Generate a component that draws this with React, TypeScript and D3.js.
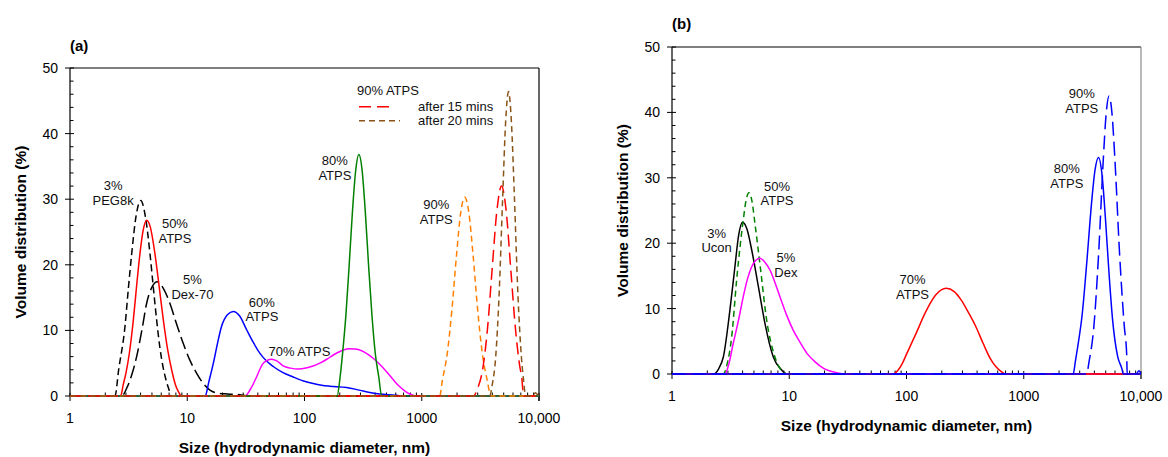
import React from 'react';
import * as d3 from 'd3';

type P = [number, number];

// ---------- axis ticks ----------
const X_TICKS = [1, 10, 100, 1000, 10000];
const X_TICK_LABELS = ['1', '10', '100', '1000', '10,000'];
const Y_TICKS = [0, 10, 20, 30, 40, 50];

// ---------- panel (a) data: [size nm, volume %] ----------
const A_PEG8K: P[] = [[1, 0], [2.42, 0], [2.6, 4], [2.94, 10.5], [3.15, 16.5], [3.36, 21.7], [3.65, 27.3], [4.01, 29.8], [4.4, 27.3], [4.81, 21.7], [5.12, 16.8], [5.48, 11.6], [5.85, 7.3], [6.25, 4.2], [6.6, 2.4], [7.03, 0.8], [7.25, 0], [10000, 0]];
const A_DEX70: P[] = [[1, 0], [2.75, 0], [3.1, 1.5], [3.4, 3.5], [3.7, 6.0], [4.1, 10], [4.5, 14.1], [5.0, 16.6], [5.55, 17.4], [6.3, 16.3], [7.12, 14.1], [8.1, 11], [9.25, 8.0], [10.5, 5.5], [12.0, 3.5], [13.7, 1.9], [15.6, 0.9], [18, 0.45], [22, 0.3], [28, 0.2], [33, 0], [10000, 0]];
const A_ATPS50: P[] = [[1, 0], [2.7, 0], [2.85, 1.8], [3.0, 3.5], [3.2, 6.4], [3.47, 11.6], [3.7, 16.8], [3.95, 21.7], [4.2, 25.2], [4.51, 26.8], [4.85, 25.7], [5.3, 21.7], [5.75, 16.8], [6.25, 11.6], [6.8, 7.1], [7.36, 4.0], [7.9, 1.8], [8.38, 0.7], [8.95, 0], [10000, 0]];
const A_ATPS60: P[] = [[1, 0], [14.2, 0], [15.3, 2.2], [16.7, 5.0], [18.0, 7.8], [19.6, 10.6], [22, 12.4], [24.7, 12.9], [28, 12.2], [32.1, 10.1], [36.5, 8.2], [41.7, 6.5], [47, 5.4], [54.1, 4.5], [65, 3.6], [80.1, 2.9], [98, 2.3], [118.6, 1.9], [140, 1.65], [164.7, 1.5], [228.5, 1.3], [270, 1.05], [316, 0.75], [370, 0.5], [439, 0.3], [520, 0.18], [610, 0.1], [700, 0], [10000, 0]];
const A_ATPS70: P[] = [[1, 0], [31, 0], [35, 1.2], [39, 2.9], [44.5, 5.0], [52.5, 5.6], [58, 5.35], [65.8, 4.6], [76, 4.25], [88.3, 4.1], [105, 4.3], [120, 4.6], [135, 5.0], [155, 5.6], [176, 6.25], [205, 6.85], [236, 7.2], [270, 7.15], [307, 6.9], [345, 6.4], [385, 5.75], [440, 4.8], [501, 3.7], [570, 2.5], [650, 1.4], [720, 0.75], [792, 0.3], [903, 0], [10000, 0]];
const A_ATPS80: P[] = [[1, 0], [190, 0], [200, 2.5], [212, 6.8], [225, 12.1], [240, 19.7], [256, 27.9], [273, 34.3], [291, 36.8], [310, 34.4], [330, 28.1], [352, 19.9], [376, 12.3], [402, 6.4], [430, 2.9], [455, 0], [10000, 0]];
const A_ATPS90: P[] = [[1, 0], [1420, 0], [1503, 2.5], [1648, 6.4], [1807, 13.1], [1982, 21.6], [2148, 27.9], [2330, 30.3], [2524, 27.9], [2737, 21.6], [3000, 13.1], [3290, 6.4], [3606, 2.5], [3900, 0], [10000, 0]];
const A_ATPS90_15MIN: P[] = [[1, 0], [2750, 0], [3020, 1.3], [3310, 4.1], [3630, 10.1], [3980, 19.2], [4370, 28.2], [4790, 32], [5250, 28.2], [5750, 19.2], [6310, 10.1], [6920, 4.1], [7100, 3.1], [7400, 0], [10000, 0]];
const A_ATPS90_20MIN: P[] = [[1, 0], [3800, 0], [3980, 1.6], [4270, 5.9], [4570, 15.5], [4900, 30.3], [5190, 41.7], [5495, 46.4], [5820, 41.7], [6170, 30.3], [6610, 15.5], [7080, 5.9], [7450, 1.8], [7650, 0], [8900, 0], [9300, 0.5], [9800, 0.15], [10000, 0]];

// ---------- panel (b) data ----------
const B_UCON3: P[] = [[1, 0], [2.25, 0], [2.5, 0.8], [2.74, 2.6], [3.12, 9.8], [3.44, 16.4], [3.7, 21.2], [4.0, 23.2], [4.35, 22.2], [4.78, 19.0], [5.45, 13.4], [6.21, 7.7], [7.31, 2.6], [8.61, 0.6], [9.5, 0], [10000, 0]];
const B_ATPS50: P[] = [[1, 0], [2.74, 0], [2.95, 1.5], [3.23, 5.7], [3.56, 14.4], [4.05, 23.5], [4.3, 26.7], [4.53, 27.7], [4.8, 26.5], [5.1, 23.0], [5.7, 15.9], [6.41, 8.3], [7.55, 2.6], [8.6, 0.5], [9.6, 0], [10000, 0]];
const B_DEX5: P[] = [[1, 0], [2.83, 0], [3.05, 1.5], [3.33, 4.7], [3.7, 8.3], [4.05, 11.8], [4.4, 14.5], [4.78, 16.4], [5.2, 17.4], [5.63, 17.7], [6.2, 17.1], [6.85, 15.9], [7.55, 14.0], [8.33, 11.8], [9.5, 9.0], [10.8, 6.7], [12.4, 4.8], [14.1, 3.2], [16.5, 1.9], [19.5, 0.9], [25.3, 0.2], [30, 0], [10000, 0]];
const B_ATPS70: P[] = [[1, 0], [76, 0], [84, 0.5], [92, 1.6], [101, 3.2], [120, 6.1], [144, 9.3], [178, 12.1], [218, 13.1], [255, 12.6], [293, 11.3], [340, 9.3], [389, 7.3], [450, 4.7], [517, 2.4], [580, 1.1], [640, 0.4], [700, 0], [10000, 0]];
const B_ATPS80: P[] = [[1, 0], [2640, 0], [2750, 1.8], [2870, 3.9], [3150, 9.1], [3450, 17.1], [3785, 26.1], [4055, 31.2], [4345, 33.1], [4655, 30.4], [4990, 23.4], [5350, 15.1], [5730, 8.2], [6300, 2.8], [6900, 0.7], [7050, 0], [9100, 0], [9600, 0.5], [10000, 0]];
const B_ATPS90: P[] = [[1, 0], [3430, 0], [3615, 2.0], [3960, 7.2], [4345, 18.2], [4765, 32.7], [5045, 39.8], [5345, 42.5], [5660, 39.8], [5995, 32.7], [6575, 18.2], [7210, 7.2], [7550, 3.0], [7620, 0], [10000, 0]];

// ---------- annotations: [size, value at first baseline, lines] ----------
type Ann = { x: number; y: number; lines: string[] };
const A_NOTES: Ann[] = [
  { x: 2.33, y: 31.4, lines: ['3%', 'PEG8k'] },
  { x: 7.85, y: 25.6, lines: ['50%', 'ATPS'] },
  { x: 11.07, y: 17.07, lines: ['5%', 'Dex-70'] },
  { x: 43.3, y: 13.64, lines: ['60%', 'ATPS'] },
  { x: 90.5, y: 6.17, lines: ['70% ATPS'] },
  { x: 181.6, y: 35.2, lines: ['80%', 'ATPS'] },
  { x: 1330, y: 28.5, lines: ['90%', 'ATPS'] },
];
const B_NOTES: Ann[] = [
  { x: 2.4, y: 20.8, lines: ['3%', 'Ucon'] },
  { x: 7.86, y: 28.0, lines: ['50%', 'ATPS'] },
  { x: 9.37, y: 17.1, lines: ['5%', 'Dex'] },
  { x: 112.5, y: 13.76, lines: ['70%', 'ATPS'] },
  { x: 2330, y: 30.7, lines: ['80%', 'ATPS'] },
  { x: 3126, y: 42.2, lines: ['90%', 'ATPS'] },
];

const LEGEND_TITLE = '90% ATPS';
const LEGEND_ITEMS = ['after 15 mins', 'after 20 mins'];

const FONT = '"Liberation Sans", Arial, Helvetica, sans-serif';
const BROWN = '#8a5418';

type Series = { data: P[]; color: string; dash?: string };

const A_SERIES: Series[] = [
  { data: A_PEG8K, color: '#000000', dash: '7,4' },
  { data: A_DEX70, color: '#000000', dash: '13,5' },
  { data: A_ATPS50, color: '#ff0000' },
  { data: A_ATPS60, color: '#0000ff' },
  { data: A_ATPS70, color: '#ff00ff' },
  { data: A_ATPS80, color: '#008000' },
  { data: A_ATPS90, color: '#ff8000', dash: '6,4' },
  { data: A_ATPS90_15MIN, color: '#ff0000', dash: '12,6' },
  { data: A_ATPS90_20MIN, color: BROWN, dash: '6,4' },
];
const B_SERIES: Series[] = [
  { data: B_UCON3, color: '#000000' },
  { data: B_ATPS50, color: '#008000', dash: '6,4' },
  { data: B_DEX5, color: '#ff00ff' },
  { data: B_ATPS70, color: '#ff0000' },
  { data: B_ATPS80, color: '#0000ff' },
  { data: B_ATPS90, color: '#0000ff', dash: '14,6' },
];

type PanelProps = {
  id: string;
  x0: number; x1: number; yTop: number; yBottom: number;
  series: Series[];
  notes: Ann[];
  label: string;
  labelY: number;
  rightColor: string;
  legend?: boolean;
};

function Panel(p: PanelProps) {
  const x = d3.scaleLog().domain([1, 10000]).range([p.x0, p.x1]);
  const y = d3.scaleLinear().domain([0, 50]).range([p.yBottom, p.yTop]);
  const line = d3
    .line<P>()
    .x((d) => x(d[0]))
    .y((d) => y(d[1]))
    .curve(d3.curveMonotoneX);

  const minorX: number[] = [];
  for (let dec = 1; dec < 10000; dec *= 10) {
    for (let k = 2; k <= 9; k++) minorX.push(dec * k);
  }
  const minorY: number[] = [];
  for (let v = 2; v < 50; v += 2) if (v % 10 !== 0) minorY.push(v);

  const midX = (p.x0 + p.x1) / 2;
  const midY = (p.yTop + p.yBottom) / 2;

  return (
    <g>
      <defs>
        <clipPath id={`clip-${p.id}`}>
          <rect x={p.x0} y={p.yTop - 2} width={p.x1 - p.x0} height={p.yBottom - p.yTop + 4} />
        </clipPath>
      </defs>
      {/* frame */}
      <line x1={p.x0} x2={p.x1} y1={p.yTop} y2={p.yTop} stroke="#000" strokeWidth={1.2} />
      <line x1={p.x1} x2={p.x1} y1={p.yTop} y2={p.yBottom + 5} stroke={p.rightColor} strokeWidth={1.2} />
      <line x1={p.x0} x2={p.x0} y1={p.yTop} y2={p.yBottom} stroke="#000" strokeWidth={1.2} />
      <line x1={p.x0} x2={p.x1} y1={p.yBottom} y2={p.yBottom} stroke="#000" strokeWidth={1.2} />
      {/* y ticks */}
      {Y_TICKS.map((v) => (
        <g key={`yt${v}`}>
          <line x1={p.x0 - 5} x2={p.x0 + 4} y1={y(v)} y2={y(v)} stroke="#000" strokeWidth={1} />
          <text x={p.x0 - 12} y={y(v)} dy="0.36em" textAnchor="end" fontSize={14} fontFamily={FONT}>
            {v}
          </text>
        </g>
      ))}
      {minorY.map((v) => (
        <line key={`ym${v}`} x1={p.x0} x2={p.x0 + 3.5} y1={y(v)} y2={y(v)} stroke="#000" strokeWidth={1} />
      ))}
      {/* x ticks */}
      {X_TICKS.map((v, i) => (
        <g key={`xt${v}`}>
          <line x1={x(v)} x2={x(v)} y1={p.yBottom - 3} y2={p.yBottom + 5} stroke="#000" strokeWidth={1} />
          <text x={x(v)} y={p.yBottom + 27} textAnchor="middle" fontSize={14} fontFamily={FONT}>
            {X_TICK_LABELS[i]}
          </text>
        </g>
      ))}
      {minorX.map((v) => (
        <line key={`xm${v}`} x1={x(v)} x2={x(v)} y1={p.yBottom - 3.5} y2={p.yBottom} stroke="#000" strokeWidth={1} />
      ))}
      {/* titles */}
      <text x={midX} y={p.yBottom + 57} textAnchor="middle" fontSize={15.5} fontWeight="bold" fontFamily={FONT}>
        Size (hydrodynamic diameter, nm)
      </text>
      <text
        transform={`translate(${p.x0 - 50},${midY}) rotate(-90)`}
        textAnchor="middle"
        dy="0.36em"
        fontSize={15.5}
        fontWeight="bold"
        fontFamily={FONT}
      >
        Volume distribution (%)
      </text>
      <text x={p.x0} y={p.labelY} fontSize={15} fontWeight="bold" fontFamily={FONT}>
        {p.label}
      </text>
      {/* curves */}
      <g clipPath={`url(#clip-${p.id})`}>
        {p.series.map((s, i) => (
          <path
            key={`s${i}`}
            d={line(s.data) || ''}
            fill="none"
            stroke={s.color}
            strokeWidth={1.5}
            strokeDasharray={s.dash}
            strokeLinejoin="round"
          />
        ))}
      </g>
      {/* annotations */}
      {p.notes.map((n, i) => (
        <text key={`n${i}`} textAnchor="middle" fontSize={13} fontFamily={FONT} fill="#111">
          {n.lines.map((t, j) => (
            <tspan key={j} x={x(n.x)} y={y(n.y) + j * 14.5}>
              {t}
            </tspan>
          ))}
        </text>
      ))}
      {p.legend && (
        <g fontFamily={FONT} fontSize={13} fill="#111">
          <text x={357} y={95}>{LEGEND_TITLE}</text>
          <line x1={359} x2={394} y1={106.7} y2={106.7} stroke="#ff0000" strokeWidth={1.5} strokeDasharray="12,6" />
          <text x={418} y={110.5}>{LEGEND_ITEMS[0]}</text>
          <line x1={359} x2={400} y1={120.7} y2={120.7} stroke={BROWN} strokeWidth={1.5} strokeDasharray="6,4" />
          <text x={418} y={124.5}>{LEGEND_ITEMS[1]}</text>
        </g>
      )}
    </g>
  );
}

export default function App() {
  return (
    <svg
      width={1168}
      height={457}
      viewBox="0 0 1168 457"
      style={{ position: 'absolute', left: 0, top: 0, background: '#fff' }}
    >
      <rect x={0} y={0} width={1168} height={457} fill="#fff" />
      <Panel
        id="a"
        x0={70}
        x1={539}
        yTop={68}
        yBottom={396}
        series={A_SERIES}
        notes={A_NOTES}
        label="(a)"
        labelY={51}
        rightColor="#000"
        legend
      />
      <Panel
        id="b"
        x0={672}
        x1={1141}
        yTop={47}
        yBottom={374}
        series={B_SERIES}
        notes={B_NOTES}
        label="(b)"
        labelY={29}
        rightColor="#8a8a8a"
      />
    </svg>
  );
}
